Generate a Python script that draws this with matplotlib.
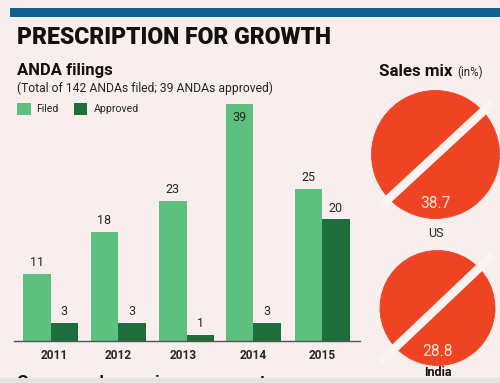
import matplotlib.pyplot as plt
from matplotlib.patches import Rectangle

years = ['2011', '2012', '2013', '2014', '2015']
filed = [11, 18, 23, 39, 25]
approved = [3, 3, 1, 3, 20]
mix_names = ['US', 'India']
mix_values = [38.7, 28.8]

W, H = 500, 383
bg = '#f9eeee'
green = '#5ec07e'
dark = '#1f6f3e'
red = '#ee4423'
ink = '#141010'
soft = '#2a2424'
plt.rcParams['font.family'] = ['Roboto', 'DejaVu Sans']

# group centres and bar width in pixels of the picture
group_x = [50.5, 118, 186.5, 253, 322]
tick_x = [54, 118, 183, 253, 322]
bar_w = 27.5

fig = plt.figure(figsize=(W / 100, H / 100), dpi=100, facecolor=bg)

def box(x0, y0, x1, y1):
    return [x0 / W, 1 - y1 / H, (x1 - x0) / W, (y1 - y0) / H]

def txt(x, y, s, **kw):
    kw.setdefault('va', 'center')
    return fig.text(x / W, 1 - y / H, s, **kw)

def rect(x0, y0, x1, y1, c, z=1):
    fig.add_artist(Rectangle((x0 / W, 1 - y1 / H), (x1 - x0) / W, (y1 - y0) / H,
                             transform=fig.transFigure, color=c, lw=0, zorder=z))

rect(10, 8, 500, 17, '#0f6390')

txt(17, 37, 'PRESCRIPTION FOR GROWTH', fontsize=16.6, fontweight='black', color=ink)
txt(17, 71, 'ANDA filings', fontsize=12, fontweight='bold', color=ink)
txt(17, 88, '(Total of 142 ANDAs filed; 39 ANDAs approved)', fontsize=8.75, color=soft)

# legend
rect(17, 103, 31, 115, green)
rect(74, 103, 87, 115, dark)
txt(36, 109, 'Filed', fontsize=7.6, color=soft)
txt(94, 109, 'Approved', fontsize=7.6, color=soft)

# bars, x axis runs in picture pixels
ax = fig.add_axes(box(14, 100, 360, 341))
ax.patch.set_alpha(0)
b1 = ax.bar([g - bar_w / 2 for g in group_x], filed, bar_w, color=green)
b2 = ax.bar([g + bar_w / 2 for g in group_x], approved, bar_w, color=dark)
ax.set_xlim(14, 360)
ax.set_ylim(0, 241 / 6.08)
for s in ['top', 'left', 'right']:
    ax.spines[s].set_visible(False)
ax.spines['bottom'].set_color('#555555')
ax.spines['bottom'].set_linewidth(1)
ax.set_yticks([])
ax.set_xticks(tick_x)
ax.set_xticklabels(years, fontsize=8.6, fontweight='bold', color=soft)
ax.tick_params(axis='x', length=0, pad=6)
for r, v in zip(list(b1) + list(b2), filed + approved):
    if v == 39:
        ax.text(r.get_x() + r.get_width() / 2, v - 1.2, str(v), ha='center', va='top',
                fontsize=9, color=soft)
    else:
        ax.text(r.get_x() + r.get_width() / 2, v + 0.8, str(v), ha='center', va='bottom',
                fontsize=9, color=soft)

# sales mix
txt(379, 71, 'Sales mix', fontsize=12.2, fontweight='bold', color=ink)
txt(457, 72, '(in%)', fontsize=8.4, color=soft)

circles = [(435.5, 154.5, 64), (437.5, 308, 57.5)]
slashes = [([-0.86, 0.89], [-0.81, 0.81]), ([-1.0, 0.96], [-0.94, 0.92])]
label_y = [233, 373]
for (cx, cy, r), (sx, sy), ly, name, v in zip(circles, slashes, label_y, mix_names, mix_values):
    a = fig.add_axes(box(cx - r, cy - r, cx + r, cy + r))
    a.pie([v, 100 - v], colors=[red, red], radius=1, startangle=270 - v * 1.8,
          wedgeprops={'edgecolor': red, 'linewidth': 0.6})
    a.set_xlim(-1, 1)
    a.set_ylim(-1, 1)
    a.plot(sx, sy, color='#fbf3ef', lw=6.2, solid_capstyle='butt', clip_on=False)
    a.text(0, -0.76, str(v), ha='center', va='center', fontsize=11.2, color='#fbe6d8')
    txt(cx, ly, name, ha='center', fontsize=9, fontweight='bold' if name == 'India' else 'normal',
        color=ink if name == 'India' else soft, zorder=3)

# heading of the next panel, cut off by the grey strip as in the reference
txt(17, 383, 'One year share price movement', fontsize=12.5, fontweight='bold', color=ink, zorder=1)
rect(0, 378, 500, 383, '#e6e2e2', z=2)

fig.savefig('out.png', dpi=100, facecolor=bg)
